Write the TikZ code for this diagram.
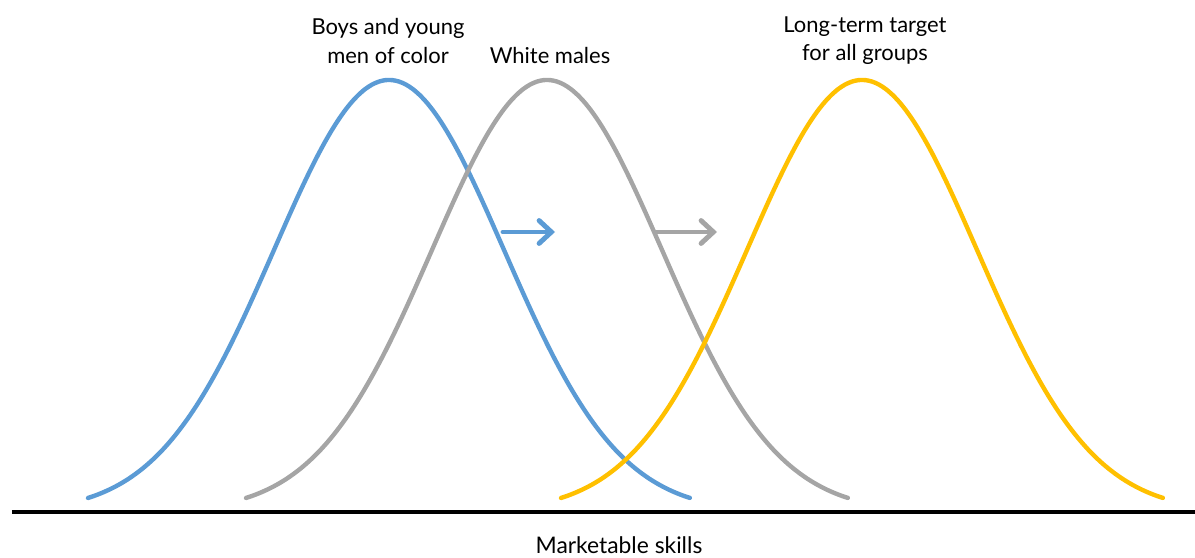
\documentclass[tikz,border=0pt]{standalone}
\usepackage{fontspec}
\setmainfont{Lato}
\usepackage{tikz}
\usetikzlibrary{arrows.meta, positioning}
\definecolor{skillblue}{HTML}{5B9BD5}
\definecolor{skillgray}{HTML}{A5A5A5}
\definecolor{skillgold}{HTML}{FFC000}
\tikzstyle{bell}=[line width=2.5pt, line join=round, line cap=round]
\tikzstyle{shiftarrow}=[line width=2.8pt, line cap=round, -{Straight Barb[length=7pt, width=13pt, line cap=round]}]
\tikzstyle{grouplabel}=[font=\fontsize{12.5}{16}\selectfont, align=center, text=black]

\begin{document}
\begin{tikzpicture}[x=2cm, y=-2cm]
    \useasboundingbox (0,0) rectangle (11.95,5.57);

    % skill distributions
    \draw[bell, skillblue] plot[domain=-3.01:3.01, samples=90, smooth]
      ({3.89+\x}, {5.12-4.32*exp(-(\x)^2/(2*1.15^2))});
    \draw[bell, skillgray] plot[domain=-3.01:3.01, samples=90, smooth]
      ({5.47+\x}, {5.12-4.32*exp(-(\x)^2/(2*1.15^2))});
    \draw[bell, skillgold] plot[domain=-3.01:3.01, samples=90, smooth]
      ({8.62+\x}, {5.12-4.32*exp(-(\x)^2/(2*1.15^2))});

    % axis
    \coordinate (axisL) at (0.12,5.12);
    \coordinate (axisR) at (11.95,5.12);
    \draw[line width=1.8pt] (axisL) -- (axisR);
    \node[grouplabel, font=\fontsize{13}{16}\selectfont] (skills) at (6.19,5.45) {Marketable skills};

    \node[grouplabel] (boys)   at (3.88,0.41) {Boys and young\\men of color};
    \node[grouplabel] (white)  at (5.50,0.55) {White males};
    \node[grouplabel] (target) at (8.65,0.41) {Long-term target\\for all groups};

    % shifts
    \coordinate (b1) at (5.03,2.32);
    \coordinate (b2) at (5.55,2.32);
    \coordinate (g1) at (6.55,2.32);
    \coordinate (g2) at (7.17,2.32);
    \draw[shiftarrow, skillblue] (b1) -- (b2);
    \draw[shiftarrow, skillgray] (g1) -- (g2);
  \end{tikzpicture}
\end{document}
